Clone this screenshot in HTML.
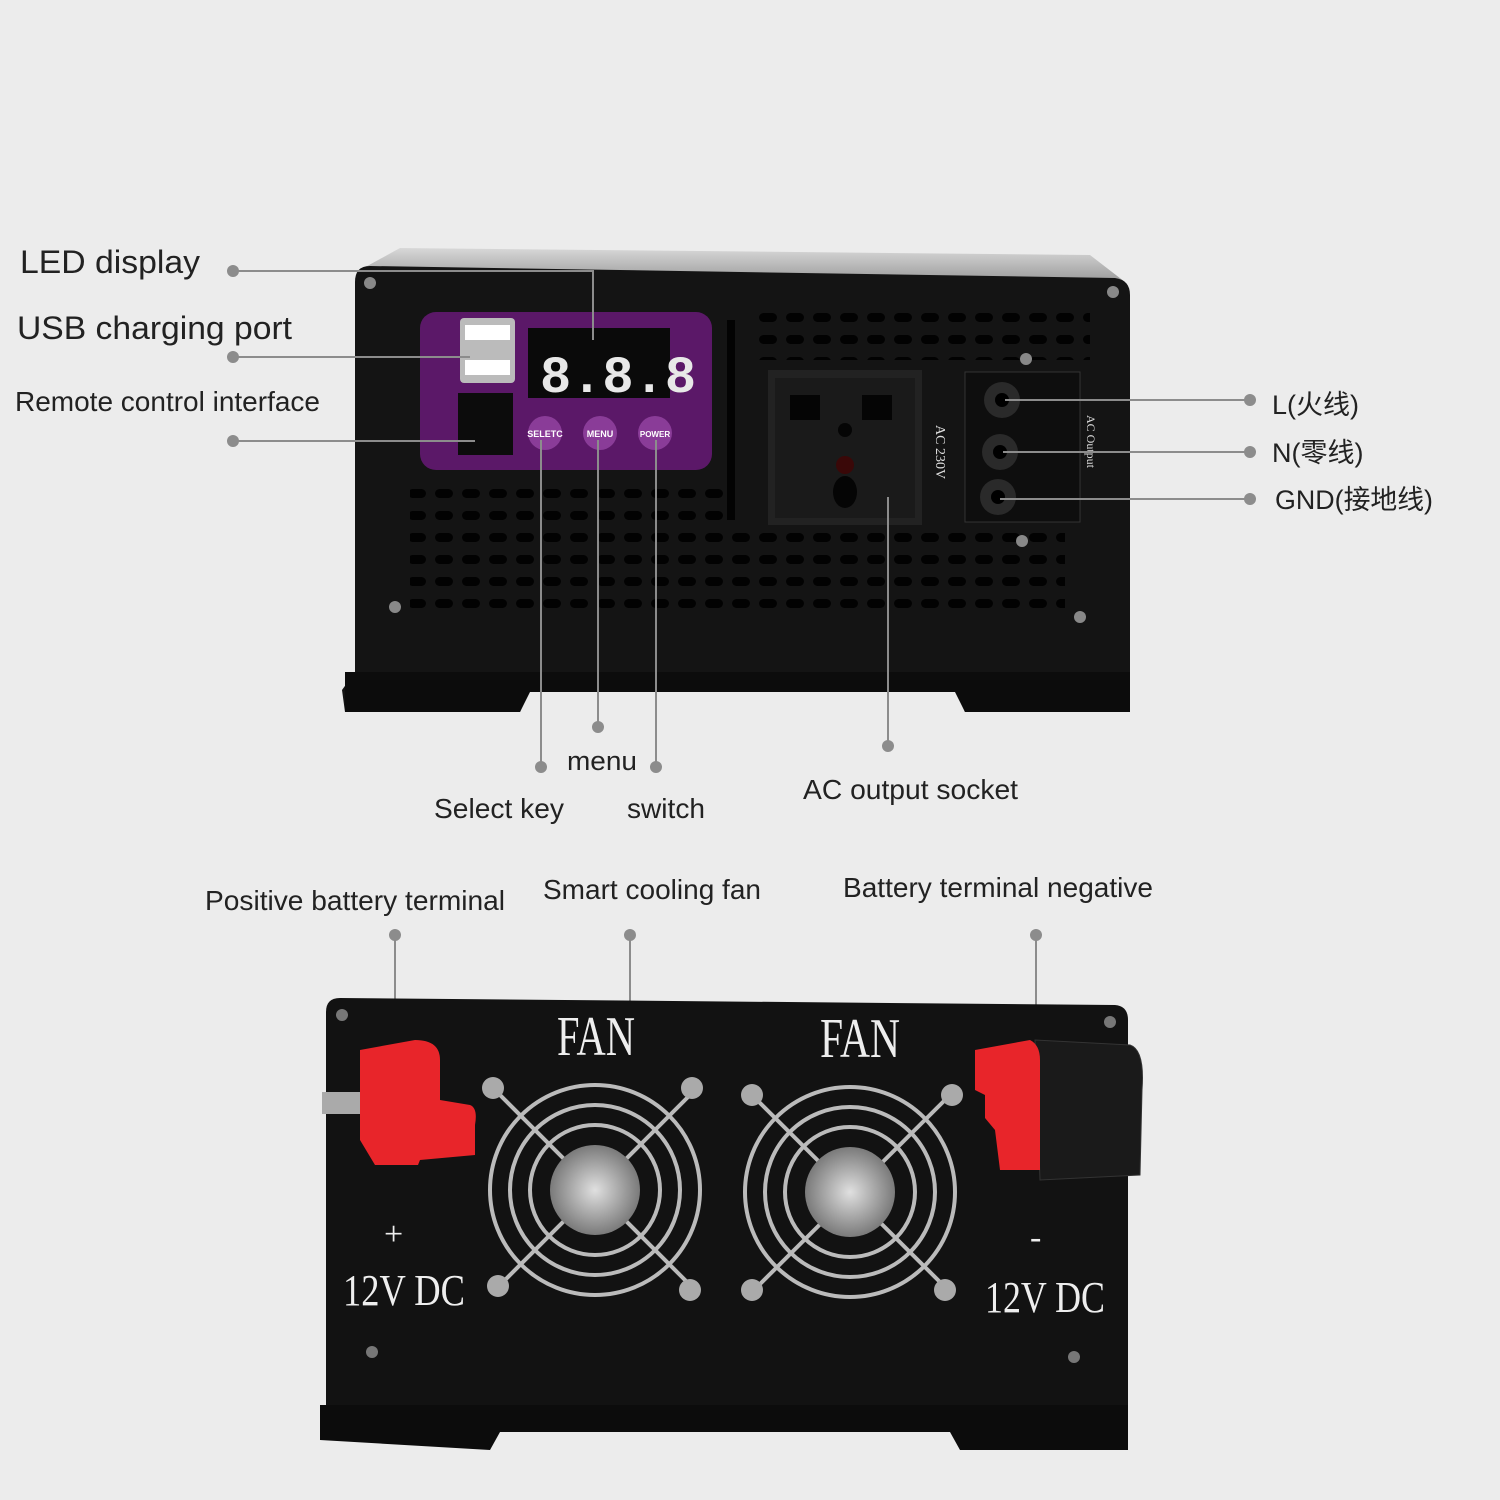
<!DOCTYPE html>
<html><head><meta charset="utf-8"><style>
html,body{margin:0;padding:0;background:#ececec;}
svg{display:block}
text{font-family:"Liberation Sans","Noto Sans CJK SC",sans-serif;fill:#222}
</style></head><body>
<svg width="1500" height="1500" viewBox="0 0 1500 1500" xmlns="http://www.w3.org/2000/svg">
<defs>
<pattern id="vent" x="0" y="0" width="27" height="22" patternUnits="userSpaceOnUse">
<rect x="3" y="5" width="18" height="9" rx="4.5" fill="#020202"/>
</pattern>
<linearGradient id="top" x1="0" y1="0" x2="0" y2="1"><stop offset="0" stop-color="#d8d8d8"/><stop offset="1" stop-color="#9a9a9a"/></linearGradient>
<radialGradient id="hub" cx="0.5" cy="0.5" r="0.5"><stop offset="0" stop-color="#e0e0e0"/><stop offset="1" stop-color="#7a7a7a"/></radialGradient>
</defs>
<rect width="1500" height="1500" fill="#ececec"/>

<!-- TOP DEVICE -->
<polygon points="400,248 1090,255 1125,282 360,270" fill="url(#top)"/>
<path d="M370,266 L1115,278 Q1130,280 1130,295 L1130,685 L1125,712 L965,712 L955,690 L530,690 L520,712 L345,712 L342,690 L355,672 L355,282 Q355,266 370,266 Z" fill="#141414"/>
<polygon points="345,672 1130,672 1130,712 965,712 955,692 530,692 520,712 345,712" fill="#0c0c0c"/>
<rect x="410" y="480" width="325" height="130" fill="url(#vent)"/>
<rect x="750" y="300" width="340" height="60" fill="url(#vent)"/>
<rect x="735" y="525" width="330" height="85" fill="url(#vent)"/>
<rect x="727" y="320" width="8" height="200" fill="#030303"/>
<rect x="420" y="312" width="292" height="158" rx="16" fill="#5b1868"/>
<rect x="460" y="318" width="55" height="65" rx="4" fill="#bbb"/>
<rect x="465" y="325" width="45" height="15" fill="#fff"/><rect x="465" y="360" width="45" height="15" fill="#fff"/>
<rect x="458" y="393" width="55" height="62" fill="#0c0c0c"/>
<rect x="528" y="328" width="142" height="70" fill="#0a0a0a"/>
<text x="540" y="392" font-size="52" style="fill:#e8e8e8;font-family:'Liberation Mono',monospace" font-weight="bold">8.8.8</text>
<circle cx="545" cy="433" r="17" fill="#8a3c98"/><circle cx="600" cy="433" r="17" fill="#8a3c98"/><circle cx="655" cy="433" r="17" fill="#8a3c98"/>
<text x="545" y="437" font-size="9" text-anchor="middle" style="fill:#fff" font-weight="bold">SELETC</text>
<text x="600" y="437" font-size="9" text-anchor="middle" style="fill:#fff" font-weight="bold">MENU</text>
<text x="655" y="437" font-size="8" text-anchor="middle" style="fill:#fff" font-weight="bold">POWER</text>
<rect x="768" y="370" width="154" height="155" fill="#222"/><rect x="775" y="378" width="140" height="140" fill="#1a1a1a"/>
<rect x="790" y="395" width="30" height="25" fill="#050505"/><rect x="862" y="395" width="30" height="25" fill="#050505"/>
<circle cx="845" cy="430" r="7" fill="#050505"/><circle cx="845" cy="465" r="9" fill="#3a0808"/><ellipse cx="845" cy="492" rx="12" ry="16" fill="#050505"/>
<text x="936" y="425" font-size="14" transform="rotate(90 936 425)" style="fill:#ddd;font-family:'Liberation Serif',serif">AC 230V</text>
<text x="1087" y="415" font-size="12" transform="rotate(90 1087 415)" style="fill:#ddd;font-family:'Liberation Serif',serif">AC Output</text>
<rect x="965" y="372" width="115" height="150" fill="#0e0e0e" stroke="#333"/>
<circle cx="1002" cy="400" r="18" fill="#2a2a2a"/><circle cx="1002" cy="400" r="7" fill="#000"/>
<circle cx="1000" cy="452" r="18" fill="#2a2a2a"/><circle cx="1000" cy="452" r="7" fill="#000"/>
<circle cx="998" cy="497" r="18" fill="#2a2a2a"/><circle cx="998" cy="497" r="7" fill="#000"/>
<g fill="#888"><circle cx="370" cy="283" r="6"/><circle cx="1113" cy="292" r="6"/><circle cx="395" cy="607" r="6"/><circle cx="1080" cy="617" r="6"/><circle cx="1022" cy="541" r="6"/><circle cx="1026" cy="359" r="6"/></g>

<!-- callouts -->
<g stroke="#8c8c8c" stroke-width="2" fill="none">
<polyline points="233,271 593,271 593,340"/>
<line x1="233" y1="357" x2="470" y2="357"/>
<line x1="233" y1="441" x2="475" y2="441"/>
<line x1="541" y1="440" x2="541" y2="767"/>
<line x1="598" y1="440" x2="598" y2="727"/>
<line x1="656" y1="440" x2="656" y2="767"/>
<line x1="888" y1="497" x2="888" y2="746"/>
<line x1="1005" y1="400" x2="1250" y2="400"/>
<line x1="1003" y1="452" x2="1250" y2="452"/>
<line x1="1000" y1="499" x2="1250" y2="499"/>
<line x1="395" y1="935" x2="395" y2="1060"/>
<line x1="630" y1="935" x2="630" y2="1140"/>
<line x1="1036" y1="935" x2="1036" y2="1060"/>
</g>
<g fill="#8c8c8c">
<circle cx="233" cy="271" r="6"/><circle cx="233" cy="357" r="6"/><circle cx="233" cy="441" r="6"/>
<circle cx="541" cy="767" r="6"/><circle cx="598" cy="727" r="6"/><circle cx="656" cy="767" r="6"/><circle cx="888" cy="746" r="6"/>
<circle cx="1250" cy="400" r="6"/><circle cx="1250" cy="452" r="6"/><circle cx="1250" cy="499" r="6"/>
<circle cx="395" cy="935" r="6"/><circle cx="630" cy="935" r="6"/><circle cx="1036" cy="935" r="6"/>
</g>
<text x="20" y="273" font-size="32" textLength="180" lengthAdjust="spacingAndGlyphs">LED display</text>
<text x="17" y="339" font-size="32" textLength="275" lengthAdjust="spacingAndGlyphs">USB charging port</text>
<text x="15" y="411" font-size="27.5" textLength="305" lengthAdjust="spacingAndGlyphs">Remote control interface</text>
<text x="567" y="770" font-size="27" textLength="70" lengthAdjust="spacingAndGlyphs">menu</text>
<text x="434" y="818" font-size="27.5" textLength="130" lengthAdjust="spacingAndGlyphs">Select key</text>
<text x="627" y="818" font-size="27.5" textLength="78" lengthAdjust="spacingAndGlyphs">switch</text>
<text x="803" y="799" font-size="27.5" textLength="215" lengthAdjust="spacingAndGlyphs">AC output socket</text>
<text x="1272" y="414" font-size="27">L(火线)</text>
<text x="1272" y="462" font-size="27">N(零线)</text>
<text x="1275" y="509" font-size="27" textLength="158" lengthAdjust="spacingAndGlyphs">GND(接地线)</text>
<text x="205" y="910" font-size="27.5" textLength="300" lengthAdjust="spacingAndGlyphs">Positive battery terminal</text>
<text x="543" y="899" font-size="27.5" textLength="218" lengthAdjust="spacingAndGlyphs">Smart cooling fan</text>
<text x="843" y="897" font-size="27.5" textLength="310" lengthAdjust="spacingAndGlyphs">Battery terminal negative</text>

<!-- BOTTOM DEVICE -->
<path d="M340,998 L1115,1005 Q1128,1006 1128,1020 L1128,1415 L326,1415 L326,1012 Q326,998 340,998 Z" fill="#121212"/>
<polygon points="320,1405 1128,1405 1128,1450 960,1450 950,1432 500,1432 490,1450 320,1440" fill="#0c0c0c"/>
<text x="557" y="1055" font-size="56" style="fill:#eee;font-family:'Liberation Serif',serif" textLength="78" lengthAdjust="spacingAndGlyphs">FAN</text>
<text x="820" y="1057" font-size="56" style="fill:#eee;font-family:'Liberation Serif',serif" textLength="80" lengthAdjust="spacingAndGlyphs">FAN</text>
<g stroke="#bbb" stroke-width="4" fill="none">
<circle cx="595" cy="1190" r="105"/><circle cx="595" cy="1190" r="85"/><circle cx="595" cy="1190" r="65"/>
<circle cx="850" cy="1192" r="105"/><circle cx="850" cy="1192" r="85"/><circle cx="850" cy="1192" r="65"/>
<line x1="495" y1="1090" x2="695" y2="1290"/><line x1="695" y1="1090" x2="495" y2="1290"/>
<line x1="752" y1="1095" x2="950" y2="1292"/><line x1="950" y1="1095" x2="752" y2="1292"/>
</g>
<circle cx="595" cy="1190" r="45" fill="url(#hub)"/><circle cx="850" cy="1192" r="45" fill="url(#hub)"/>
<g fill="#aaa"><circle cx="493" cy="1088" r="11"/><circle cx="692" cy="1088" r="11"/><circle cx="498" cy="1286" r="11"/><circle cx="690" cy="1290" r="11"/>
<circle cx="752" cy="1095" r="11"/><circle cx="952" cy="1095" r="11"/><circle cx="752" cy="1290" r="11"/><circle cx="945" cy="1290" r="11"/></g>
<rect x="322" y="1092" width="45" height="22" fill="#aaa"/>
<path d="M360,1050 L415,1040 Q440,1040 440,1060 L440,1100 L470,1105 Q478,1108 475,1125 L475,1155 L420,1160 L418,1165 L375,1165 L360,1140 Z" fill="#e8252a"/>
<path d="M1035,1040 L1130,1045 Q1145,1050 1142,1090 L1140,1175 L1040,1180 Z" fill="#1a1a1a" stroke="#333"/>
<path d="M975,1050 L1030,1040 Q1040,1045 1040,1060 L1040,1170 L1000,1170 L995,1130 L985,1118 L985,1095 L975,1090 Z" fill="#e8252a"/>
<text x="384" y="1245" font-size="34" style="fill:#eee;font-family:'Liberation Serif',serif">+</text>
<text x="1030" y="1248" font-size="34" style="fill:#eee;font-family:'Liberation Serif',serif">-</text>
<text x="343" y="1305" font-size="44" style="fill:#eee;font-family:'Liberation Serif',serif" textLength="122" lengthAdjust="spacingAndGlyphs">12V DC</text>
<text x="985" y="1312" font-size="44" style="fill:#eee;font-family:'Liberation Serif',serif" textLength="120" lengthAdjust="spacingAndGlyphs">12V DC</text>
<g fill="#777"><circle cx="342" cy="1015" r="6"/><circle cx="1110" cy="1022" r="6"/><circle cx="372" cy="1352" r="6"/><circle cx="1074" cy="1357" r="6"/></g>
</svg>
</body></html>
